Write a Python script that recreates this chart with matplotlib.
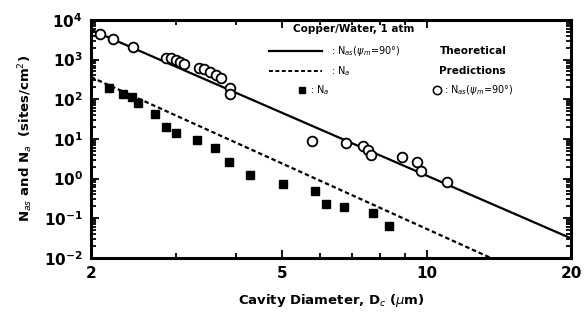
import matplotlib as mpl
mpl.use('Agg')
import matplotlib.pyplot as plt
import numpy as np

# open circles: measured N_as (psi_m = 90 deg)
nas_d = [2.09, 2.22, 2.45, 2.86, 2.93, 3.00, 3.06, 3.13, 3.36, 3.44, 3.54, 3.64,
         3.73, 3.89, 3.89, 5.78, 6.79, 7.36, 7.54, 7.65, 8.87, 9.57, 9.71, 11.03]
nas_n = [4440, 3320, 2090, 1104, 1104, 983, 875, 780, 618, 583, 490, 412,
         346, 194, 137, 8.95, 7.98, 6.70, 5.31, 3.98, 3.54, 2.65, 1.57, 0.83]

# filled squares: measured N_a
na_d = [2.18, 2.33, 2.43, 2.51, 2.72, 2.86, 3.01, 3.33, 3.63, 3.88, 4.28,
        5.01, 5.86, 6.18, 6.73, 7.73, 8.34]
na_n = [194, 137, 115, 81, 42.9, 20.2, 14.3, 9.5, 5.97, 2.65, 1.25,
        0.74, 0.49, 0.23, 0.195, 0.138, 0.065]

# theoretical prediction lines
theory_nas_d = [2.0, 20.0]
theory_nas_n = [5600, 0.031]
theory_na_d = [2.0, 13.6]
theory_na_n = [360, 0.01]

xticks = [2, 5, 10, 20]
xminor = [3, 4, 6, 7, 8, 9]

fig = plt.figure(figsize=(5.84, 3.2), dpi=100)
ax = fig.add_axes([0.156, 0.194, 0.822, 0.744])

ax.plot(theory_nas_d, theory_nas_n, color='black', linewidth=1.6)
ax.plot(theory_na_d, theory_na_n, color='black', linewidth=1.6, linestyle=(0, (2, 1.3)))
ax.plot(nas_d, nas_n, 'o', markerfacecolor='white', markeredgecolor='black',
        markersize=7, markeredgewidth=1.3)
ax.plot(na_d, na_n, 's', color='black', markersize=5.5)

ax.set_xscale('log')
ax.set_yscale('log')
ax.set_xlim(2, 20)
ax.set_ylim(1e-2, 1e4)

ax.xaxis.set_major_locator(mpl.ticker.FixedLocator(xticks))
ax.xaxis.set_major_formatter(mpl.ticker.FixedFormatter([str(t) for t in xticks]))
ax.xaxis.set_minor_locator(mpl.ticker.FixedLocator(xminor))
ax.xaxis.set_minor_formatter(mpl.ticker.NullFormatter())
ax.yaxis.set_major_locator(mpl.ticker.LogLocator(base=10, numticks=10))
ax.yaxis.set_minor_locator(mpl.ticker.LogLocator(base=10, subs=np.arange(2, 10), numticks=10))
ax.yaxis.set_minor_formatter(mpl.ticker.NullFormatter())

ax.tick_params(which='both', direction='in', top=True, right=True, width=1.3)
ax.tick_params(which='major', length=6, labelsize=11, pad=6)
ax.tick_params(which='minor', length=3.5)
for s in ax.spines.values():
    s.set_linewidth(2.2)
for lab in ax.get_xticklabels() + ax.get_yticklabels():
    lab.set_fontweight('bold')

ax.set_xlabel(r'Cavity Diameter, D$_c$ ($\mu$m)', fontsize=9.5, fontweight='bold', labelpad=8)
ax.set_ylabel(r'N$_{as}$ and N$_a$  (sites/cm$^2$)', fontsize=9.5, fontweight='bold', labelpad=6)

# legend block drawn by hand (axes coordinates)
tr = ax.transAxes
ax.text(0.42, 0.96, 'Copper/Water, 1 atm', transform=tr, fontsize=7.5, fontweight='bold', va='center')
ax.plot([0.37, 0.48], [0.87, 0.87], transform=tr, color='black', linewidth=1.6)
ax.text(0.50, 0.87, r': N$_{as}$($\psi_m$=90$\degree$)', transform=tr, fontsize=7, va='center')
ax.plot([0.37, 0.48], [0.785, 0.785], transform=tr, color='black', linewidth=1.4, linestyle=(0, (2, 1.3)))
ax.text(0.50, 0.785, r': N$_a$', transform=tr, fontsize=7, va='center')
ax.text(0.727, 0.87, 'Theoretical', transform=tr, fontsize=7.5, fontweight='bold', va='center')
ax.text(0.725, 0.785, 'Predictions', transform=tr, fontsize=7.5, fontweight='bold', va='center')
ax.plot([0.44], [0.705], 's', transform=tr, color='black', markersize=4.5)
ax.text(0.455, 0.705, r': N$_a$', transform=tr, fontsize=7, va='center')
ax.plot([0.72], [0.705], 'o', transform=tr, markerfacecolor='white', markeredgecolor='black',
        markersize=6, markeredgewidth=1.1)
ax.text(0.735, 0.705, r': N$_{as}$($\psi_m$=90$\degree$)', transform=tr, fontsize=7, va='center')

plt.savefig('out.png', dpi=100)
